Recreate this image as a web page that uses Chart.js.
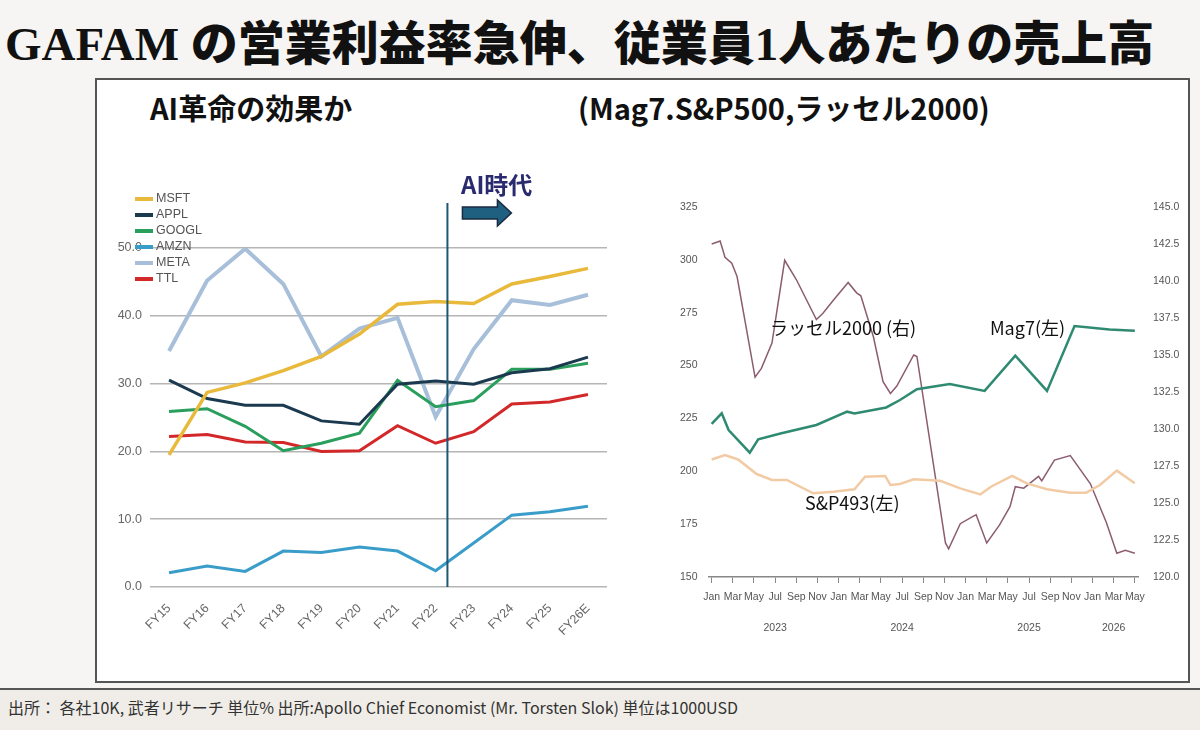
<!DOCTYPE html>
<html lang="ja">
<head>
<meta charset="utf-8">
<script src="https://cdn.jsdelivr.net/npm/chart.js@4.4.1/dist/chart.umd.min.js"></script>
<style>
  html, body { margin: 0; padding: 0; }
  body { width: 1200px; height: 730px; position: relative; overflow: hidden; background: #f6f5f3; font-family: "Noto Sans CJK JP", sans-serif; }
  #title { position: absolute; left: 5px; top: 5px; font-size: 47px; font-weight: 900; font-family: "Liberation Serif", "Noto Sans CJK JP", serif; color: #111; white-space: nowrap; }
  #panel { position: absolute; left: 95px; top: 78px; width: 1091px; height: 601px; background: #fff; border: 2px solid #555; }
  #footer { position: absolute; left: 0; top: 688px; width: 1200px; height: 42px; background: #f0ede8; border-top: 2px solid #555; }
  #footer span { position: absolute; left: 8px; top: 5px; font-size: 16px; color: #333; white-space: nowrap; }
  .sub { position: absolute; top: 86px; font-size: 29px; font-weight: 700; color: #111; white-space: nowrap; }
  .note { position: absolute; font-size: 18px; color: #111; white-space: nowrap; }
  #aiText { position: absolute; left: 461px; top: 166px; font-size: 24px; font-weight: 700; color: #2a2a70; white-space: nowrap; }
  canvas { position: absolute; }
</style>
</head>
<body>
<div id="title">GAFAM の営業利益率急伸、従業員1人あたりの売上高</div>
<div id="panel"></div>
<div class="sub" style="left:150px">AI革命の効果か</div>
<div class="sub" style="left:578px">(Mag7.S&amp;P500,ラッセル2000)</div>
<canvas id="left" width="520" height="500" style="left:100px;top:150px"></canvas>
<canvas id="right" width="520" height="470" style="left:670px;top:180px"></canvas>
<div id="aiText">AI時代</div>
<div class="note" style="left:770px;top:314px">ラッセル2000 (右)</div>
<div class="note" style="left:990px;top:314px">Mag7(左)</div>
<div class="note" style="left:805px;top:489px">S&amp;P493(左)</div>
<div id="footer"><span>出所： 各社10K, 武者リサーチ 単位% 出所:Apollo Chief Economist (Mr. Torsten Slok) 単位は1000USD</span></div>

<script>
// 左: 営業利益率 (%)
const fyLabels = ['FY15','FY16','FY17','FY18','FY19','FY20','FY21','FY22','FY23','FY24','FY25','FY26E'];
const msft  = [19.5, 28.7, 30.1, 31.9, 34.0, 37.3, 41.7, 42.1, 41.8, 44.7, 45.8, 47.0];
const appl  = [30.5, 27.8, 26.8, 26.8, 24.5, 24.0, 29.9, 30.4, 29.9, 31.6, 32.2, 33.9];
const googl = [25.9, 26.3, 23.7, 20.1, 21.2, 22.7, 30.5, 26.6, 27.5, 32.1, 32.1, 33.0];
const amzn  = [2.1, 3.1, 2.3, 5.3, 5.1, 5.9, 5.3, 2.4, 6.5, 10.6, 11.1, 11.9];
const meta  = [34.8, 45.2, 49.9, 44.7, 34.0, 38.1, 39.7, 25.1, 35.1, 42.3, 41.6, 43.1];
const ttl   = [22.2, 22.5, 21.4, 21.3, 20.0, 20.1, 23.8, 21.2, 22.9, 27.0, 27.3, 28.4];
const aiStart = 7.31; // FY22 と FY23 の間

// 右: 従業員1人あたり売上高 (月, 0 = 2023年1月)
const mag7Month = [0, 0.95, 1.6, 3.6, 4.4, 6.5, 9.9, 12.8, 13.5, 16.5, 17.8, 19.4, 22.5, 25.8, 28.7, 31.7, 34.3, 37.6, 40];
const mag7Value = [222.4, 227.4, 219.5, 208.8, 215.1, 217.9, 221.9, 228.2, 227.4, 230.2, 233.7, 238.8, 241.3, 238.0, 254.7, 238.0, 268.7, 267.1, 266.5];
const sp493Month = [0, 1.26, 2.5, 4.25, 5.7, 7.1, 9.6, 11.5, 13.5, 14.5, 16.4, 16.9, 17.8, 19.1, 21.6, 23.5, 25.4, 26.4, 28.4, 29.8, 31.7, 33.9, 35.4, 36.7, 38.3, 40];
const sp493Value = [205.6, 207.7, 205.6, 198.7, 195.9, 195.9, 189.6, 190.3, 191.5, 197.4, 197.8, 193.5, 194.0, 196.2, 195.5, 191.9, 189.1, 192.7, 197.8, 194.3, 191.5, 189.9, 189.9, 193.5, 200.3, 194.3];
const rutMonth = [0, 0.8, 1.26, 1.9, 2.4, 4.1, 4.7, 5.7, 6.9, 8.0, 9.9, 10.5, 11.5, 12.9, 13.7, 14.1, 15.3, 16.2, 16.9, 17.5, 19.1, 19.4, 22.1, 22.4, 23.5, 24.7, 25.0, 26.0, 27.2, 28.2, 28.7, 29.5, 30.9, 31.2, 32.4, 33.9, 35.8, 37.3, 38.3, 39.1, 40];
const rutValue = [142.5, 142.7, 141.6, 141.2, 140.3, 133.5, 134.1, 135.8, 141.4, 140.1, 137.4, 137.8, 138.7, 139.9, 139.2, 139.0, 136.2, 133.2, 132.4, 132.9, 135.0, 134.9, 122.3, 121.9, 123.6, 124.1, 124.2, 122.3, 123.5, 124.75, 126.1, 126.0, 126.8, 126.5, 127.9, 128.2, 126.3, 123.7, 121.6, 121.8, 121.6];
const monthNames = ['Jan','Feb','Mar','Apr','May','Jun','Jul','Aug','Sep','Oct','Nov','Dec'];
const monthTicks = [0, 2, 4, 6, 8, 10, 12, 14, 16, 18, 20, 22, 24, 26, 28, 30, 32, 34, 36, 38, 40];
const yearLabels = ['2023', '2024', '2025', '2026'];
const yearAt = [6, 18, 30, 38];

Chart.defaults.font.family = '"Liberation Sans", Arial, sans-serif';

// 凡例・AI時代ライン・矢印
const leftDecor = {
  id: 'leftDecor',
  afterDatasetsDraw(chart) {
    const ctx = chart.ctx;
    const x = chart.scales.x;
    const area = chart.chartArea;
    const lx = x.getPixelForValue(7) + (x.getPixelForValue(8) - x.getPixelForValue(7)) * (aiStart - 7);
    ctx.save();
    ctx.strokeStyle = '#1d5775';
    ctx.lineWidth = 2;
    ctx.beginPath();
    ctx.moveTo(lx, area.top - 45);
    ctx.lineTo(lx, area.bottom);
    ctx.stroke();

    // 矢印
    const ax = lx + 15, ay = area.top - 35;
    ctx.beginPath();
    ctx.moveTo(ax, ay - 6);
    ctx.lineTo(ax + 35, ay - 6);
    ctx.lineTo(ax + 35, ay - 13);
    ctx.lineTo(ax + 49, ay);
    ctx.lineTo(ax + 35, ay + 13);
    ctx.lineTo(ax + 35, ay + 6);
    ctx.lineTo(ax, ay + 6);
    ctx.closePath();
    ctx.fillStyle = '#1f6080';
    ctx.fill();
    ctx.strokeStyle = '#1a2a40';
    ctx.lineWidth = 1.5;
    ctx.stroke();

    // 凡例
    ctx.font = '12.5px "Liberation Sans", Arial, sans-serif';
    ctx.textBaseline = 'middle';
    chart.data.datasets.forEach((ds, i) => {
      const y = 49 + i * 16;
      ctx.strokeStyle = ds.borderColor;
      ctx.lineWidth = 4;
      ctx.beginPath();
      ctx.moveTo(35, y);
      ctx.lineTo(53, y);
      ctx.stroke();
      ctx.fillStyle = '#555';
      ctx.fillText(ds.label, 56, y);
    });
    ctx.restore();
  }
};

new Chart(document.getElementById('left'), {
  type: 'line',
  data: {
    labels: fyLabels,
    datasets: [
      { label: 'MSFT', data: msft, borderColor: '#e9b93c', borderWidth: 3.5 },
      { label: 'APPL', data: appl, borderColor: '#1b3a4f', borderWidth: 3 },
      { label: 'GOOGL', data: googl, borderColor: '#2a9e5c', borderWidth: 3 },
      { label: 'AMZN', data: amzn, borderColor: '#3a9dc9', borderWidth: 3 },
      { label: 'META', data: meta, borderColor: '#a8bfd9', borderWidth: 4 },
      { label: 'TTL', data: ttl, borderColor: '#d3282a', borderWidth: 3 }
    ]
  },
  options: {
    responsive: false,
    animation: false,
    layout: { padding: { top: 98, right: 13, left: 0, bottom: 0 } },
    elements: { point: { radius: 0 }, line: { tension: 0 } },
    plugins: { legend: { display: false }, tooltip: { enabled: false } },
    scales: {
      x: {
        offset: true,
        grid: { display: false },
        border: { display: false },
        ticks: { color: '#666', font: { size: 12.5 }, minRotation: 45, maxRotation: 45, padding: 6 },
        afterFit: s => { s.height = 63; }
      },
      y: {
        min: 0, max: 50,
        ticks: { stepSize: 10, color: '#666', font: { size: 12.5 }, padding: 8, callback: v => v.toFixed(1) },
        grid: { color: '#b5b5b5', lineWidth: 1.5, drawTicks: false },
        border: { display: false },
        afterFit: s => { s.width = 50; }
      }
    }
  },
  plugins: [leftDecor]
});

// 年ラベル
const small = '10.5px "Liberation Sans", Arial, sans-serif';
const yearRow = {
  id: 'yearRow',
  afterDraw(chart) {
    const ctx = chart.ctx;
    const x = chart.scales.x;
    ctx.save();
    ctx.font = small;
    ctx.fillStyle = '#555';
    ctx.textAlign = 'center';
    ctx.textBaseline = 'middle';
    yearLabels.forEach((t, i) => ctx.fillText(t, x.getPixelForValue(yearAt[i]), chart.chartArea.bottom + 51));
    ctx.restore();
  }
};

const narrow = { size: 10.5, family: '"Liberation Sans", Arial, sans-serif' };

new Chart(document.getElementById('right'), {
  type: 'line',
  data: {
    datasets: [
      { label: 'Mag7', data: mag7Month.map((m, i) => ({ x: m, y: mag7Value[i] })), borderColor: '#2f8a72', borderWidth: 2.5, yAxisID: 'y' },
      { label: 'S&P493', data: sp493Month.map((m, i) => ({ x: m, y: sp493Value[i] })), borderColor: '#f2cba5', borderWidth: 2.5, yAxisID: 'y' },
      { label: 'Russell2000', data: rutMonth.map((m, i) => ({ x: m, y: rutValue[i] })), borderColor: '#8c5c71', borderWidth: 1.5, yAxisID: 'y1' }
    ]
  },
  options: {
    responsive: false,
    animation: false,
    layout: { padding: { top: 27, left: 0, right: 0, bottom: 0 } },
    elements: { point: { radius: 0 }, line: { tension: 0 } },
    plugins: { legend: { display: false }, tooltip: { enabled: false } },
    scales: {
      x: {
        type: 'linear', min: -0.3, max: 40.3,
        afterBuildTicks: s => { s.ticks = monthTicks.map(v => ({ value: v })); },
        ticks: { autoSkip: false, maxRotation: 0, color: '#555', font: narrow, padding: 8, callback: v => monthNames[v % 12] },
        grid: { display: true, drawOnChartArea: false, drawTicks: true, tickLength: 6, color: '#888' },
        border: { display: true, color: '#888', width: 1.5 },
        afterFit: s => { s.height = 73; }
      },
      y: {
        position: 'left', min: 150, max: 325,
        ticks: { stepSize: 25, color: '#555', font: narrow, padding: 3 },
        grid: { display: false },
        border: { display: false },
        afterFit: s => { s.width = 38.5; }
      },
      y1: {
        position: 'right', min: 120, max: 145,
        ticks: { stepSize: 2.5, color: '#555', font: narrow, padding: 7, callback: v => v.toFixed(1) },
        grid: { display: false },
        border: { display: false },
        afterFit: s => { s.width = 52; }
      }
    }
  },
  plugins: [yearRow]
});
</script>
</body>
</html>
